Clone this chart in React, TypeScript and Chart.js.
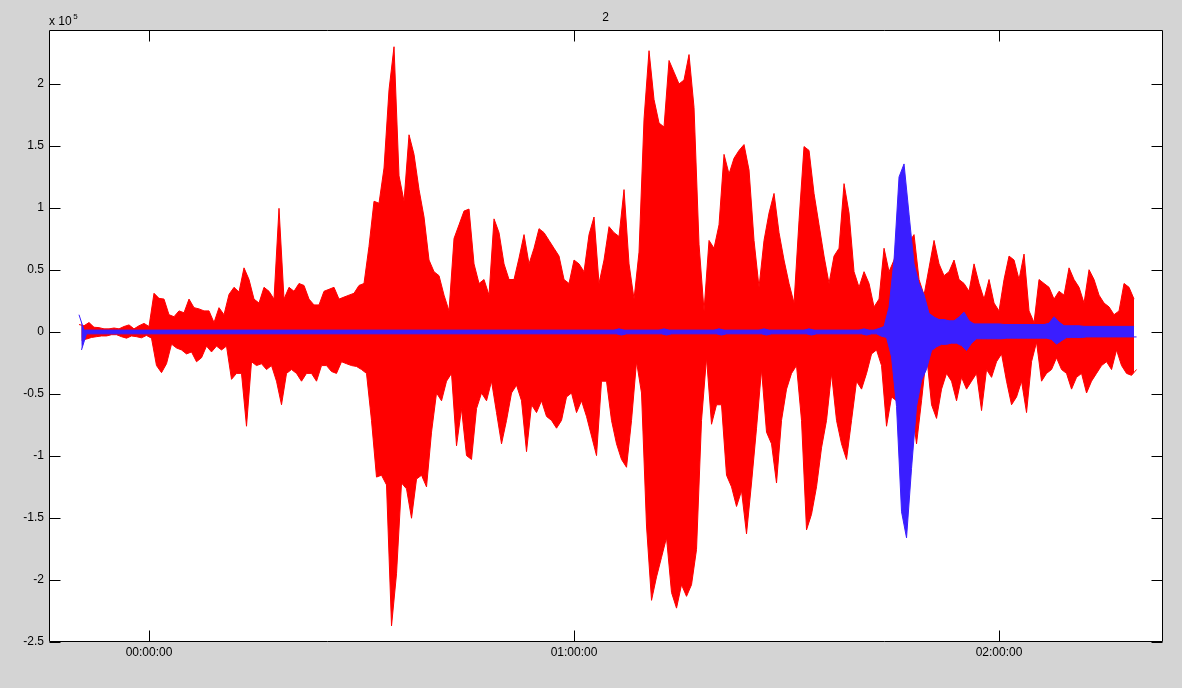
import React, { useEffect, useRef } from "react";
import { Chart, registerables } from "chart.js";

Chart.register(...registerables);

// ---- labels / axes ----
const TITLE = "2";
const Y_EXPONENT = "5";
const X_TICK_HOURS = [0, 1, 2];
const X_TICK_LABELS = ["00:00:00", "01:00:00", "02:00:00"];
const Y_TICKS = [-2.5, -2, -1.5, -1, -0.5, 0, 0.5, 1, 1.5, 2];
const X_MIN_H = -0.2353;
const X_MAX_H = 2.3835;
const Y_MIN = -2.5;
const Y_MAX = 2.435;

// ---- sampling (hours) ----
const SAMPLE_START_H = -0.1647;
const SAMPLE_STEP_H = 0.011765;

// ---- red series: peak high / peak low per bin ----
const redHigh = [
  0.060, 0.050, 0.076, 0.038, 0.035, 0.025, 0.025, 0.032, 0.025, 0.044,
  0.057, 0.025, 0.050, 0.069, 0.044, 0.312, 0.271, 0.265, 0.139, 0.123,
  0.170, 0.155, 0.265, 0.196, 0.186, 0.170, 0.170, 0.076, 0.196, 0.139,
  0.303, 0.360, 0.322, 0.517, 0.423, 0.265, 0.233, 0.360, 0.328, 0.265,
  0.997, 0.265, 0.360, 0.328, 0.391, 0.375, 0.265, 0.218, 0.218, 0.328,
  0.344, 0.360, 0.265, 0.281, 0.297, 0.312, 0.375, 0.391, 0.691, 1.054,
  1.038, 1.322, 1.953, 2.300, 1.259, 1.054, 1.590, 1.432, 1.148, 0.927,
  0.580, 0.486, 0.454, 0.297, 0.170, 0.754, 0.864, 0.975, 0.991, 0.549,
  0.391, 0.423, 0.297, 0.912, 0.801, 0.549, 0.423, 0.423, 0.596, 0.785,
  0.549, 0.675, 0.833, 0.801, 0.738, 0.675, 0.612, 0.423, 0.391, 0.580,
  0.549, 0.486, 0.785, 0.927, 0.391, 0.580, 0.849, 0.801, 0.770, 1.148,
  0.549, 0.265, 0.644, 1.716, 2.268, 1.874, 1.685, 1.653, 2.189, 2.095,
  2.000, 2.032, 2.237, 1.811, 0.707, 0.170, 0.738, 0.675, 0.864, 1.432,
  1.274, 1.401, 1.464, 1.511, 1.306, 0.738, 0.360, 0.738, 0.959, 1.117,
  0.801, 0.580, 0.391, 0.233, 0.896, 1.495, 1.464, 1.117, 0.864, 0.612,
  0.391, 0.612, 0.675, 1.196, 0.959, 0.486, 0.360, 0.486, 0.391, 0.202,
  0.265, 0.675, 0.486, 0.580, 0.738, 0.770, 0.722, 0.785, 0.423, 0.297,
  0.517, 0.738, 0.549, 0.454, 0.486, 0.580, 0.423, 0.391, 0.328, 0.549,
  0.391, 0.265, 0.423, 0.233, 0.170, 0.423, 0.612, 0.580, 0.423, 0.628,
  0.170, 0.076, 0.423, 0.391, 0.360, 0.265, 0.328, 0.297, 0.517, 0.423,
  0.360, 0.233, 0.502, 0.423, 0.297, 0.233, 0.202, 0.139, 0.170, 0.391,
  0.360, 0.265,
];

const redLow = [
  -0.066, -0.057, -0.044, -0.038, -0.032, -0.032, -0.022, -0.022, -0.038, -0.050,
  -0.032, -0.038, -0.047, -0.028, -0.050, -0.271, -0.328, -0.256, -0.098, -0.129,
  -0.145, -0.177, -0.161, -0.240, -0.208, -0.114, -0.161, -0.114, -0.145, -0.114,
  -0.382, -0.334, -0.334, -0.760, -0.240, -0.271, -0.256, -0.303, -0.271, -0.397,
  -0.587, -0.334, -0.303, -0.334, -0.397, -0.334, -0.334, -0.397, -0.271, -0.271,
  -0.319, -0.334, -0.240, -0.256, -0.271, -0.278, -0.303, -0.334, -0.713, -1.170,
  -1.155, -1.233, -2.370, -1.950, -1.218, -1.265, -1.502, -1.186, -1.155, -1.249,
  -0.808, -0.492, -0.555, -0.397, -0.334, -0.918, -0.618, -0.997, -1.028, -0.618,
  -0.492, -0.555, -0.397, -0.650, -0.902, -0.713, -0.492, -0.429, -0.555, -0.965,
  -0.587, -0.650, -0.555, -0.681, -0.713, -0.776, -0.713, -0.524, -0.492, -0.650,
  -0.555, -0.681, -0.839, -0.997, -0.397, -0.397, -0.713, -0.902, -1.028, -1.091,
  -0.713, -0.240, -0.492, -1.565, -2.164, -1.975, -1.817, -1.659, -2.101, -2.227,
  -2.038, -2.132, -2.038, -1.754, -0.713, -0.208, -0.744, -0.587, -0.587, -1.155,
  -1.249, -1.407, -1.281, -1.628, -1.218, -0.776, -0.303, -0.808, -0.902, -1.218,
  -0.713, -0.461, -0.334, -0.271, -0.713, -1.596, -1.470, -1.249, -0.934, -0.713,
  -0.334, -0.713, -0.902, -1.028, -0.713, -0.397, -0.461, -0.334, -0.177, -0.145,
  -0.271, -0.760, -0.524, -0.555, -0.744, -0.776, -0.587, -0.902, -0.555, -0.177,
  -0.587, -0.697, -0.461, -0.334, -0.397, -0.555, -0.366, -0.461, -0.397, -0.334,
  -0.634, -0.303, -0.366, -0.240, -0.177, -0.397, -0.587, -0.524, -0.397, -0.650,
  -0.240, -0.082, -0.397, -0.334, -0.303, -0.208, -0.303, -0.334, -0.461, -0.366,
  -0.334, -0.492, -0.397, -0.334, -0.271, -0.240, -0.303, -0.145, -0.271, -0.334,
  -0.350, -0.303,
];

// ---- blue series: peak high / peak low per bin ----
const blueHigh = [
  0.139, 0.015, 0.015, 0.015, 0.015, 0.015, 0.015, 0.015, 0.015, 0.015,
  0.015, 0.015, 0.015, 0.015, 0.015, 0.015, 0.015, 0.015, 0.015, 0.015,
  0.015, 0.015, 0.015, 0.015, 0.015, 0.015, 0.015, 0.015, 0.015, 0.015,
  0.015, 0.015, 0.015, 0.015, 0.015, 0.015, 0.015, 0.015, 0.015, 0.015,
  0.015, 0.015, 0.015, 0.015, 0.015, 0.015, 0.015, 0.015, 0.015, 0.015,
  0.015, 0.015, 0.015, 0.015, 0.015, 0.015, 0.015, 0.015, 0.015, 0.015,
  0.015, 0.015, 0.015, 0.015, 0.015, 0.015, 0.015, 0.015, 0.015, 0.015,
  0.015, 0.015, 0.015, 0.015, 0.015, 0.015, 0.015, 0.015, 0.015, 0.015,
  0.015, 0.015, 0.015, 0.015, 0.015, 0.015, 0.015, 0.015, 0.015, 0.015,
  0.015, 0.015, 0.015, 0.015, 0.015, 0.015, 0.015, 0.015, 0.015, 0.015,
  0.015, 0.015, 0.015, 0.015, 0.015, 0.015, 0.015, 0.015, 0.025, 0.015,
  0.015, 0.015, 0.015, 0.015, 0.015, 0.015, 0.015, 0.025, 0.015, 0.015,
  0.015, 0.015, 0.015, 0.015, 0.015, 0.015, 0.015, 0.015, 0.025, 0.015,
  0.015, 0.015, 0.015, 0.015, 0.015, 0.015, 0.015, 0.025, 0.015, 0.015,
  0.015, 0.015, 0.015, 0.015, 0.015, 0.015, 0.025, 0.015, 0.015, 0.015,
  0.015, 0.015, 0.015, 0.015, 0.015, 0.015, 0.015, 0.025, 0.015, 0.015,
  0.028, 0.044, 0.200, 0.580, 1.250, 1.355, 0.950, 0.550, 0.390, 0.300,
  0.150, 0.120, 0.100, 0.100, 0.090, 0.090, 0.120, 0.160, 0.090, 0.065,
  0.065, 0.065, 0.065, 0.065, 0.065, 0.060, 0.060, 0.060, 0.060, 0.060,
  0.060, 0.060, 0.060, 0.060, 0.070, 0.123, 0.080, 0.050, 0.050, 0.050,
  0.050, 0.045, 0.045, 0.045, 0.045, 0.045, 0.045, 0.045, 0.045, 0.045,
  0.045, 0.045,
];

const blueLow = [
  -0.145, -0.015, -0.015, -0.015, -0.015, -0.015, -0.015, -0.015, -0.015, -0.015,
  -0.015, -0.015, -0.015, -0.015, -0.015, -0.015, -0.015, -0.015, -0.015, -0.015,
  -0.015, -0.015, -0.015, -0.015, -0.015, -0.015, -0.015, -0.015, -0.015, -0.015,
  -0.015, -0.015, -0.015, -0.015, -0.015, -0.015, -0.015, -0.015, -0.015, -0.015,
  -0.015, -0.015, -0.015, -0.015, -0.015, -0.015, -0.015, -0.015, -0.015, -0.015,
  -0.015, -0.015, -0.015, -0.015, -0.015, -0.015, -0.015, -0.015, -0.015, -0.015,
  -0.015, -0.015, -0.015, -0.015, -0.015, -0.015, -0.015, -0.015, -0.015, -0.015,
  -0.015, -0.015, -0.015, -0.015, -0.015, -0.015, -0.015, -0.015, -0.015, -0.015,
  -0.015, -0.015, -0.015, -0.015, -0.015, -0.015, -0.015, -0.015, -0.015, -0.015,
  -0.015, -0.015, -0.015, -0.015, -0.015, -0.015, -0.015, -0.015, -0.015, -0.015,
  -0.015, -0.015, -0.015, -0.015, -0.015, -0.015, -0.015, -0.015, -0.025, -0.015,
  -0.015, -0.015, -0.015, -0.015, -0.015, -0.015, -0.015, -0.025, -0.015, -0.015,
  -0.015, -0.015, -0.015, -0.015, -0.015, -0.015, -0.015, -0.015, -0.025, -0.015,
  -0.015, -0.015, -0.015, -0.015, -0.015, -0.015, -0.015, -0.025, -0.015, -0.015,
  -0.015, -0.015, -0.015, -0.015, -0.015, -0.015, -0.025, -0.015, -0.015, -0.015,
  -0.015, -0.015, -0.015, -0.015, -0.015, -0.015, -0.015, -0.025, -0.015, -0.015,
  -0.035, -0.044, -0.200, -0.600, -1.450, -1.660, -1.100, -0.600, -0.390, -0.300,
  -0.150, -0.120, -0.100, -0.100, -0.090, -0.090, -0.110, -0.150, -0.090, -0.055,
  -0.055, -0.055, -0.055, -0.055, -0.055, -0.050, -0.050, -0.050, -0.050, -0.050,
  -0.050, -0.050, -0.050, -0.050, -0.060, -0.098, -0.070, -0.045, -0.045, -0.045,
  -0.045, -0.040, -0.040, -0.040, -0.040, -0.040, -0.040, -0.040, -0.040, -0.040,
  -0.040, -0.040,
];

const RED = "#ff0000";
const BLUE = "#3a1eff";
const BG = "#d4d4d4";
const FONT = '"Liberation Sans", Arial, Helvetica, sans-serif';

// high peaks at each bin start, low peaks half a bin later
function seriesPoints(values: number[], offset: number) {
  return values.map((v, i) => ({
    x: SAMPLE_START_H + (i + offset) * SAMPLE_STEP_H,
    y: v,
  }));
}

const framePlugin = {
  id: "matlabFrame",
  beforeDraw(chart: any) {
    const { ctx, chartArea: a } = chart;
    ctx.save();
    ctx.fillStyle = "#ffffff";
    ctx.fillRect(a.left, a.top, a.right - a.left, a.bottom - a.top);
    ctx.restore();
  },
  afterDraw(chart: any) {
    const { ctx, chartArea: a, scales } = chart;
    ctx.save();
    ctx.strokeStyle = "#000000";
    ctx.lineWidth = 1;
    const L = Math.round(a.left) + 0.5;
    const R = Math.round(a.right) + 0.5;
    const T = Math.round(a.top) + 0.5;
    const B = Math.round(a.bottom) - 0.5;
    ctx.beginPath();
    ctx.rect(L, T, R - L, B - T);
    ctx.stroke();
    const len = 11;
    ctx.beginPath();
    for (const v of X_TICK_HOURS) {
      const px = Math.round(scales.x.getPixelForValue(v)) + 0.5;
      ctx.moveTo(px, T);
      ctx.lineTo(px, T + len);
      ctx.moveTo(px, B);
      ctx.lineTo(px, B - len);
    }
    for (const v of Y_TICKS) {
      const py = Math.round(scales.y.getPixelForValue(v)) + 0.5;
      ctx.moveTo(L, py);
      ctx.lineTo(L + len, py);
      ctx.moveTo(R, py);
      ctx.lineTo(R - len, py);
    }
    ctx.stroke();

    ctx.fillStyle = "#000000";
    ctx.font = `12px ${FONT}`;
    ctx.textAlign = "center";
    ctx.textBaseline = "middle";
    ctx.fillText(TITLE, (a.left + a.right) / 2, a.top - 12);
    ctx.textAlign = "left";
    ctx.textBaseline = "alphabetic";
    ctx.fillText("x 10", a.left, a.top - 5);
    const w = ctx.measureText("x 10").width;
    ctx.font = `8px ${FONT}`;
    ctx.fillText(Y_EXPONENT, a.left + w + 1.5, a.top - 11.5);
    ctx.restore();
  },
};

function envelopeDatasets(name: string, high: number[], low: number[], color: string) {
  return [
    {
      label: name + " high",
      data: seriesPoints(high, 0),
      borderColor: color,
      backgroundColor: color,
      borderWidth: 1,
      pointRadius: 0,
      tension: 0,
      fill: "+1",
    },
    {
      label: name + " low",
      data: seriesPoints(low, 0.5),
      borderColor: color,
      backgroundColor: color,
      borderWidth: 1,
      pointRadius: 0,
      tension: 0,
      fill: false,
    },
  ];
}

export default function App() {
  const canvasRef = useRef<HTMLCanvasElement | null>(null);

  useEffect(() => {
    const canvas = canvasRef.current;
    if (!canvas) return;
    const chart = new Chart(canvas, {
      type: "line",
      data: {
        datasets: [
          ...envelopeDatasets("blue", blueHigh, blueLow, BLUE),
          ...envelopeDatasets("red", redHigh, redLow, RED),
        ] as any,
      },
      options: {
        animation: false,
        responsive: false,
        devicePixelRatio: 1,
        layout: { padding: { top: 30, right: 20, left: 0, bottom: 0 } },
        plugins: {
          legend: { display: false },
          tooltip: { enabled: false },
          title: { display: false },
        },
        scales: {
          x: {
            type: "linear",
            min: X_MIN_H,
            max: X_MAX_H,
            grid: { display: false, drawTicks: false, tickLength: 0 },
            border: { display: false },
            afterBuildTicks: (s: any) => {
              s.ticks = X_TICK_HOURS.map((v) => ({ value: v }));
            },
            afterFit: (s: any) => {
              s.height = 46;
            },
            ticks: {
              autoSkip: false,
              maxRotation: 0,
              padding: 3,
              color: "#000000",
              font: { family: FONT, size: 12 },
              callback: (v: any) => {
                const i = X_TICK_HOURS.indexOf(Number(v));
                return i >= 0 ? X_TICK_LABELS[i] : "";
              },
            },
          },
          y: {
            type: "linear",
            min: Y_MIN,
            max: Y_MAX,
            grid: { display: false, drawTicks: false, tickLength: 0 },
            border: { display: false },
            afterBuildTicks: (s: any) => {
              s.ticks = Y_TICKS.map((v) => ({ value: v }));
            },
            afterFit: (s: any) => {
              s.width = 49;
            },
            ticks: {
              autoSkip: false,
              padding: 5,
              color: "#000000",
              font: { family: FONT, size: 12 },
              callback: (v: any) => String(Number(v)),
            },
          },
        },
      },
      plugins: [framePlugin],
    });
    return () => chart.destroy();
  }, []);

  return (
    <div
      style={{
        position: "fixed",
        left: 0,
        top: 0,
        width: 1182,
        height: 688,
        background: BG,
        overflow: "hidden",
      }}
    >
      <canvas
        ref={canvasRef}
        width={1182}
        height={688}
        style={{ display: "block", width: 1182, height: 688 }}
      />
    </div>
  );
}
